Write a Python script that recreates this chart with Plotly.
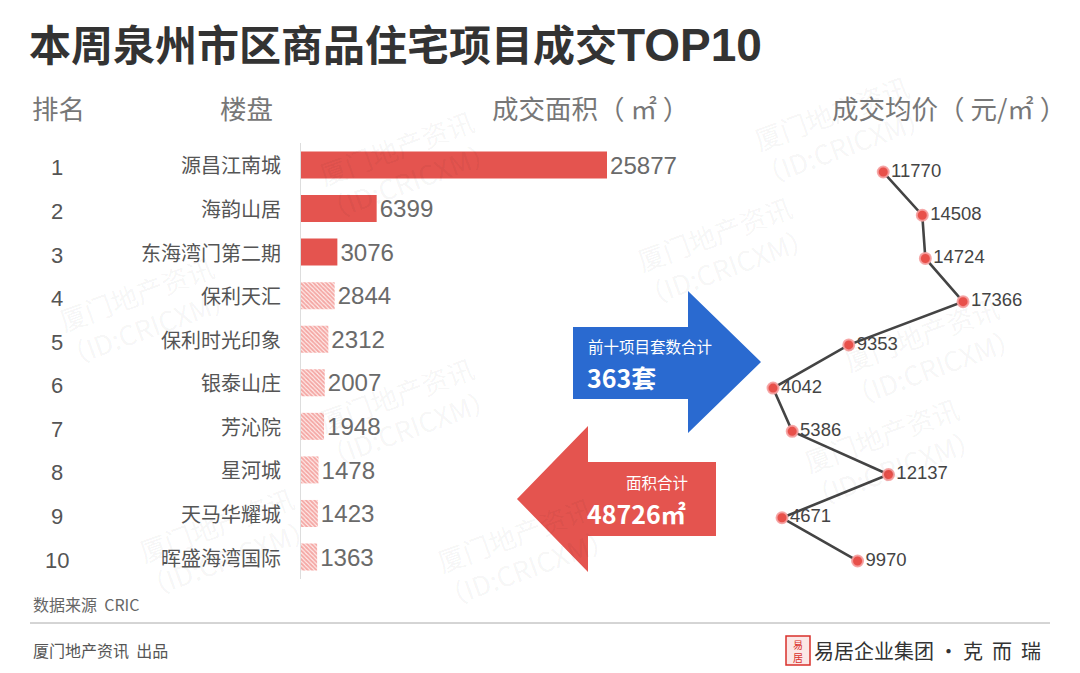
import plotly.graph_objects as go

# ---------------- data ----------------
title_cn = "本周泉州市区商品住宅项目成交"
title_en = "TOP10"
ranks = ["1", "2", "3", "4", "5", "6", "7", "8", "9", "10"]
projects = ["源昌江南城", "海韵山居", "东海湾门第二期", "保利天汇", "保利时光印象",
            "银泰山庄", "芳沁院", "星河城", "天马华耀城", "晖盛海湾国际"]
areas = [25877, 6399, 3076, 2844, 2312, 2007, 1948, 1478, 1423, 1363]
prices = [11770, 14508, 14724, 17366, 9353, 4042, 5386, 12137, 4671, 9970]
total_units = 363
total_area = 48726
headers = ["排名", "楼盘", "成交面积（ ㎡ ）", "成交均价（ 元/㎡ ）"]
source_text = "数据来源  CRIC"
credit_text = "厦门地产资讯  出品"
brand_text = "易居企业集团 • 克  而  瑞"

# ---------------- styles ----------------
W, H = 1080, 673
FONT = "Noto Sans CJK SC"
RED = "#E4544F"
BLUE = "#2A6AD0"
bar_patterns = ["", "", "", "\\", "\\", "\\", "\\", "\\", "\\", "\\"]


def px(x):
    return x / W


def py(y):
    return 1 - y / H


fig = go.Figure()

fig.add_trace(go.Bar(
    x=areas, y=projects, orientation="h",
    width=0.62,
    marker=dict(color=RED, line=dict(width=0),
                pattern=dict(shape=bar_patterns, fgcolor="#EA5F5A", bgcolor="#FFF2F1",
                             size=3, solidity=0.65)),
    text=[str(v) for v in areas], textposition="outside",
    textfont=dict(size=25, color="#6A6A6A", family="Liberation Sans"),
    cliponaxis=False, xaxis="x", yaxis="y", hoverinfo="skip",
))

fig.add_trace(go.Scatter(
    x=prices, y=projects, mode="lines+markers+text",
    line=dict(color="#444444", width=2.6),
    marker=dict(size=11, color="#E8504A", line=dict(color="rgba(245,160,160,0.9)", width=2)),
    text=[str(v) for v in prices], textposition="middle right",
    textfont=dict(size=18.5, color="#444444", family="Liberation Sans"),
    cliponaxis=False, xaxis="x2", yaxis="y2", hoverinfo="skip",
))

bar_units_per_px = 25877 / 306.0
price_units_per_px = 13324 / 190.0

fig.update_layout(
    width=W, height=H, autosize=False,
    margin=dict(l=0, r=0, t=0, b=0),
    paper_bgcolor="white", plot_bgcolor="rgba(0,0,0,0)",
    showlegend=False,
    font=dict(family=FONT),
    xaxis=dict(domain=[px(301), px(700)], range=[0, (700 - 301) * bar_units_per_px],
               visible=False, fixedrange=True),
    yaxis=dict(domain=[py(578.8), py(143.2)], categoryorder="array", categoryarray=projects,
               range=[9.5, -0.5], showticklabels=False, ticks="", showgrid=False,
               zeroline=False, showline=True, linecolor="#DDDDDD", linewidth=1),
    xaxis2=dict(domain=[px(715.4), 1], range=[0, (W - 715.4) * price_units_per_px],
                visible=False, anchor="y2"),
    yaxis2=dict(domain=[py(582.6), py(150.4)], categoryorder="array", categoryarray=projects,
                range=[9.5, -0.5], visible=False, anchor="x2"),
)

ann = []
shapes = []

# watermark (faint, tiled)
wm_pos = [(300, 95), (940, 60), (720, 250), (40, 310), (1030, 350), (300, 480),
          (990, 520), (120, 610), (520, 620)]
for (wx, wy) in wm_pos:
    ann.append(dict(x=px(wx), y=py(wy), xref="paper", yref="paper", showarrow=False,
                    text="厦门地产资讯<br>（ID:CRICXM）", textangle=-20,
                    font=dict(size=27, color="rgba(0,0,0,0.05)", family=FONT)))

# title
ann.append(dict(x=px(27), y=py(42), xref="paper", yref="paper", xanchor="left", yanchor="middle",
                showarrow=False,
                text=f"<b>{title_cn}</b><span style='font-family:Liberation Sans;font-size:46px'><b>{title_en}</b></span>",
                font=dict(size=42, color="#333333", family=FONT)))

# headers
hdr_x = [30, 218, 490, 830]
for hx, ht in zip(hdr_x, headers):
    ann.append(dict(x=px(hx), y=py(108), xref="paper", yref="paper", xanchor="left",
                    yanchor="middle", showarrow=False, text=ht,
                    font=dict(size=26.5, color="#777777", family=FONT)))

# ranks and names
for r, p in zip(ranks, projects):
    ann.append(dict(x=px(57), y=p, xref="paper", yref="y", xanchor="center", yanchor="middle",
                    yshift=-3, showarrow=False, text=r,
                    font=dict(size=22, color="#555555", family="Liberation Sans")))
    ann.append(dict(x=px(283), y=p, xref="paper", yref="y", xanchor="right", yanchor="middle",
                    showarrow=False, text=p, font=dict(size=20, color="#555555", family=FONT)))

# arrows
blue_pts = [(573, 327), (688, 327), (688, 291), (761, 362), (688, 433), (688, 399), (573, 399)]
red_pts = [(716, 462), (588, 462), (588, 426), (517, 499), (588, 572), (588, 536), (716, 536)]


def path(pts):
    return "M " + " L ".join(f"{px(a):.5f},{py(b):.5f}" for a, b in pts) + " Z"


shapes.append(dict(type="path", xref="paper", yref="paper", path=path(blue_pts),
                   fillcolor=BLUE, line=dict(width=0), layer="below"))
shapes.append(dict(type="path", xref="paper", yref="paper", path=path(red_pts),
                   fillcolor=RED, line=dict(width=0), layer="below"))

ann.append(dict(x=px(586), y=py(346), xref="paper", yref="paper", xanchor="left", yanchor="middle",
                showarrow=False, text="前十项目套数合计", font=dict(size=15.5, color="white", family=FONT)))
ann.append(dict(x=px(585), y=py(377), xref="paper", yref="paper", xanchor="left", yanchor="middle",
                showarrow=False, text=f"<b>{total_units}套</b>",
                font=dict(size=25, color="white", family=FONT)))
ann.append(dict(x=px(690), y=py(482), xref="paper", yref="paper", xanchor="right", yanchor="middle",
                showarrow=False, text="面积合计", font=dict(size=15.5, color="white", family=FONT)))
ann.append(dict(x=px(585), y=py(513), xref="paper", yref="paper", xanchor="left", yanchor="middle",
                showarrow=False, text=f"<b>{total_area}㎡</b>",
                font=dict(size=25, color="white", family=FONT)))

# footer
ann.append(dict(x=px(31), y=py(604), xref="paper", yref="paper", xanchor="left", yanchor="middle",
                showarrow=False, text=source_text, font=dict(size=16, color="#666666", family=FONT)))
shapes.append(dict(type="line", xref="paper", yref="paper", x0=px(30), x1=px(1050),
                   y0=py(623), y1=py(623), line=dict(color="#AAAAAA", width=1)))
ann.append(dict(x=px(31), y=py(650), xref="paper", yref="paper", xanchor="left", yanchor="middle",
                showarrow=False, text=credit_text, font=dict(size=16, color="#555555", family=FONT)))

# brand logo
shapes.append(dict(type="rect", xref="paper", yref="paper", x0=px(786), x1=px(810),
                   y0=py(665), y1=py(636), line=dict(color="#D9302B", width=1.5),
                   fillcolor="#FBE7E6"))
ann.append(dict(x=px(798), y=py(650.5), xref="paper", yref="paper", xanchor="center",
                yanchor="middle", showarrow=False, text="易<br>居",
                font=dict(size=10, color="#D9302B", family=FONT)))
ann.append(dict(x=px(812), y=py(650), xref="paper", yref="paper", xanchor="left", yanchor="middle",
                showarrow=False, text=brand_text, font=dict(size=20, color="#333333", family=FONT)))

fig.update_layout(annotations=ann, shapes=shapes)

fig.write_html("out.html")
